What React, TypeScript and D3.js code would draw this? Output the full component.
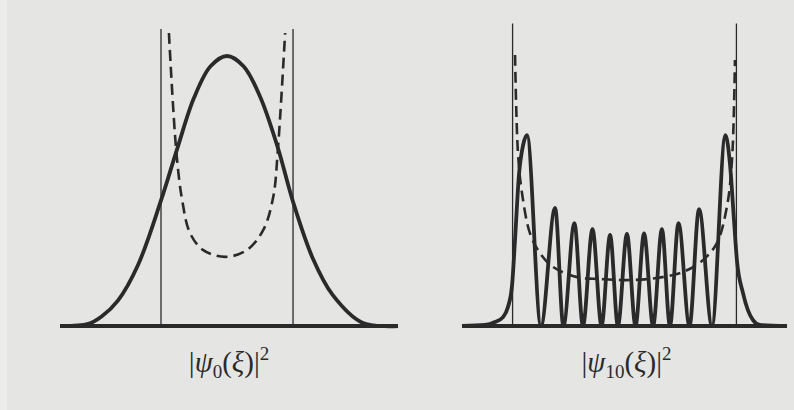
import React from 'react';
import * as d3 from 'd3';

// left panel: ground state, xi in oscillator units, density relative to the peak
const groundXi = [-2.53, -2.1, -1.9, -1.65, -1.35, -1.0, -0.75, -0.5, -0.25, 0, 0.25, 0.5, 0.77, 1.0, 1.3, 1.6, 2.05, 2.59];
const groundP = [0, 0.008, 0.035, 0.095, 0.225, 0.465, 0.66, 0.845, 0.962, 1.0, 0.962, 0.85, 0.66, 0.46, 0.25, 0.115, 0.012, 0];
// classical probability (dashed) for n = 0
const classic0Xi = [-0.88, -0.77, -0.68, -0.56, -0.36, -0.03, 0.3, 0.55, 0.7, 0.77, 0.88];
const classic0P = [1.085, 0.652, 0.467, 0.344, 0.281, 0.256, 0.281, 0.356, 0.478, 0.652, 1.085];
const turning0 = [-1, 1];

// right panel: n = 10
const excitedXi = [-6.65, -5.71, -5.3, -4.97, -4.77, -4.6, -4.48, -4.32, -4.15, -3.99, -3.42, -2.84, -2.5, -2.05, -1.7, -1.31, -0.94, -0.59, -0.27, 0.1, 0.45, 0.8, 1.17, 1.53, 1.86, 2.21, 2.66, 3.05, 3.58, 4.13, 4.32, 4.48, 4.6, 4.85, 5.05, 5.26, 5.54, 6.65];
const excitedP = [0, 0.004, 0.015, 0.033, 0.07, 0.152, 0.319, 0.559, 0.67, 0.707, 0, 0.437, 0, 0.381, 0, 0.359, 0, 0.337, 0, 0.341, 0, 0.343, 0, 0.359, 0, 0.381, 0, 0.433, 0, 0.707, 0.596, 0.393, 0.244, 0.122, 0.059, 0.022, 0.004, 0];
const classic10Xi = [-4.48, -4.36, -4.2, -3.87, -3.46, -2.93, -1.94, -1.0, 0.1, 1.33, 2.39, 3.21, 3.78, 4.19, 4.4, 4.52];
const classic10P = [1.004, 0.641, 0.496, 0.344, 0.27, 0.219, 0.181, 0.174, 0.17, 0.178, 0.2, 0.244, 0.307, 0.441, 0.615, 0.985];
const turning10 = [-4.58, 4.58];

const ink = '#2a2a2a';

const y = d3.scaleLinear().domain([0, 1]).range([326, 56]);

function Panel({ x, xi, p, cxi, cp, turning, top, sub, smooth }) {
  const mk = (curve) => d3.line<[number, number]>()
    .x(d => x(d[0]))
    .y(d => y(d[1]))
    .curve(curve);
  const soft = mk(d3.curveCatmullRom.alpha(0.5));
  const main = smooth ? soft : mk(d3.curveMonotoneX);
  const [x0, x1] = x.domain();
  const mid = (x(turning[0]) + x(turning[1])) / 2;
  return (
    <g>
      {turning.map(t => (
        <line key={t} x1={x(t)} x2={x(t)} y1={y(0)} y2={y(top)} stroke={ink} strokeWidth={1.3} />
      ))}
      <path d={soft(d3.zip(cxi, cp) as [number, number][])} fill="none" stroke={ink}
        strokeWidth={2.6} strokeDasharray="11 6" />
      <path d={main(d3.zip(xi, p) as [number, number][])} fill="none" stroke={ink}
        strokeWidth={3.8} strokeLinejoin="round" />
      <line x1={x(x0)} x2={x(x1)} y1={y(0)} y2={y(0)} stroke={ink} strokeWidth={4} />
      <text x={mid + 2} y={372} textAnchor="middle" fontFamily="'Liberation Serif', serif"
        fontSize={29} fill={ink}>
        <tspan>|</tspan>
        <tspan fontStyle="italic">ψ</tspan>
        <tspan fontSize={19} dy={6}>{sub}</tspan>
        <tspan dy={-6}>(</tspan>
        <tspan fontStyle="italic">ξ</tspan>
        <tspan>)|</tspan>
        <tspan fontSize={19} dy={-12}>2</tspan>
      </text>
    </g>
  );
}

export default function App() {
  const xLeft = d3.scaleLinear().domain([-2.53, 2.59]).range([60, 398]);
  const xRight = d3.scaleLinear().domain([-6.65, 6.65]).range([462, 787]);
  return (
    <svg width={794} height={410} style={{ position: 'absolute', left: 0, top: 0 }}>
      <rect x={0} y={0} width={794} height={410} fill="#ededec" />
      <rect x={7} y={0} width={787} height={410} fill="#e5e6e4" />
      <Panel x={xLeft} xi={groundXi} p={groundP} cxi={classic0Xi} cp={classic0P}
        turning={turning0} top={1.1} sub="0" smooth />
      <Panel x={xRight} xi={excitedXi} p={excitedP} cxi={classic10Xi} cp={classic10P}
        turning={turning10} top={1.12} sub="10" smooth={false} />
    </svg>
  );
}
